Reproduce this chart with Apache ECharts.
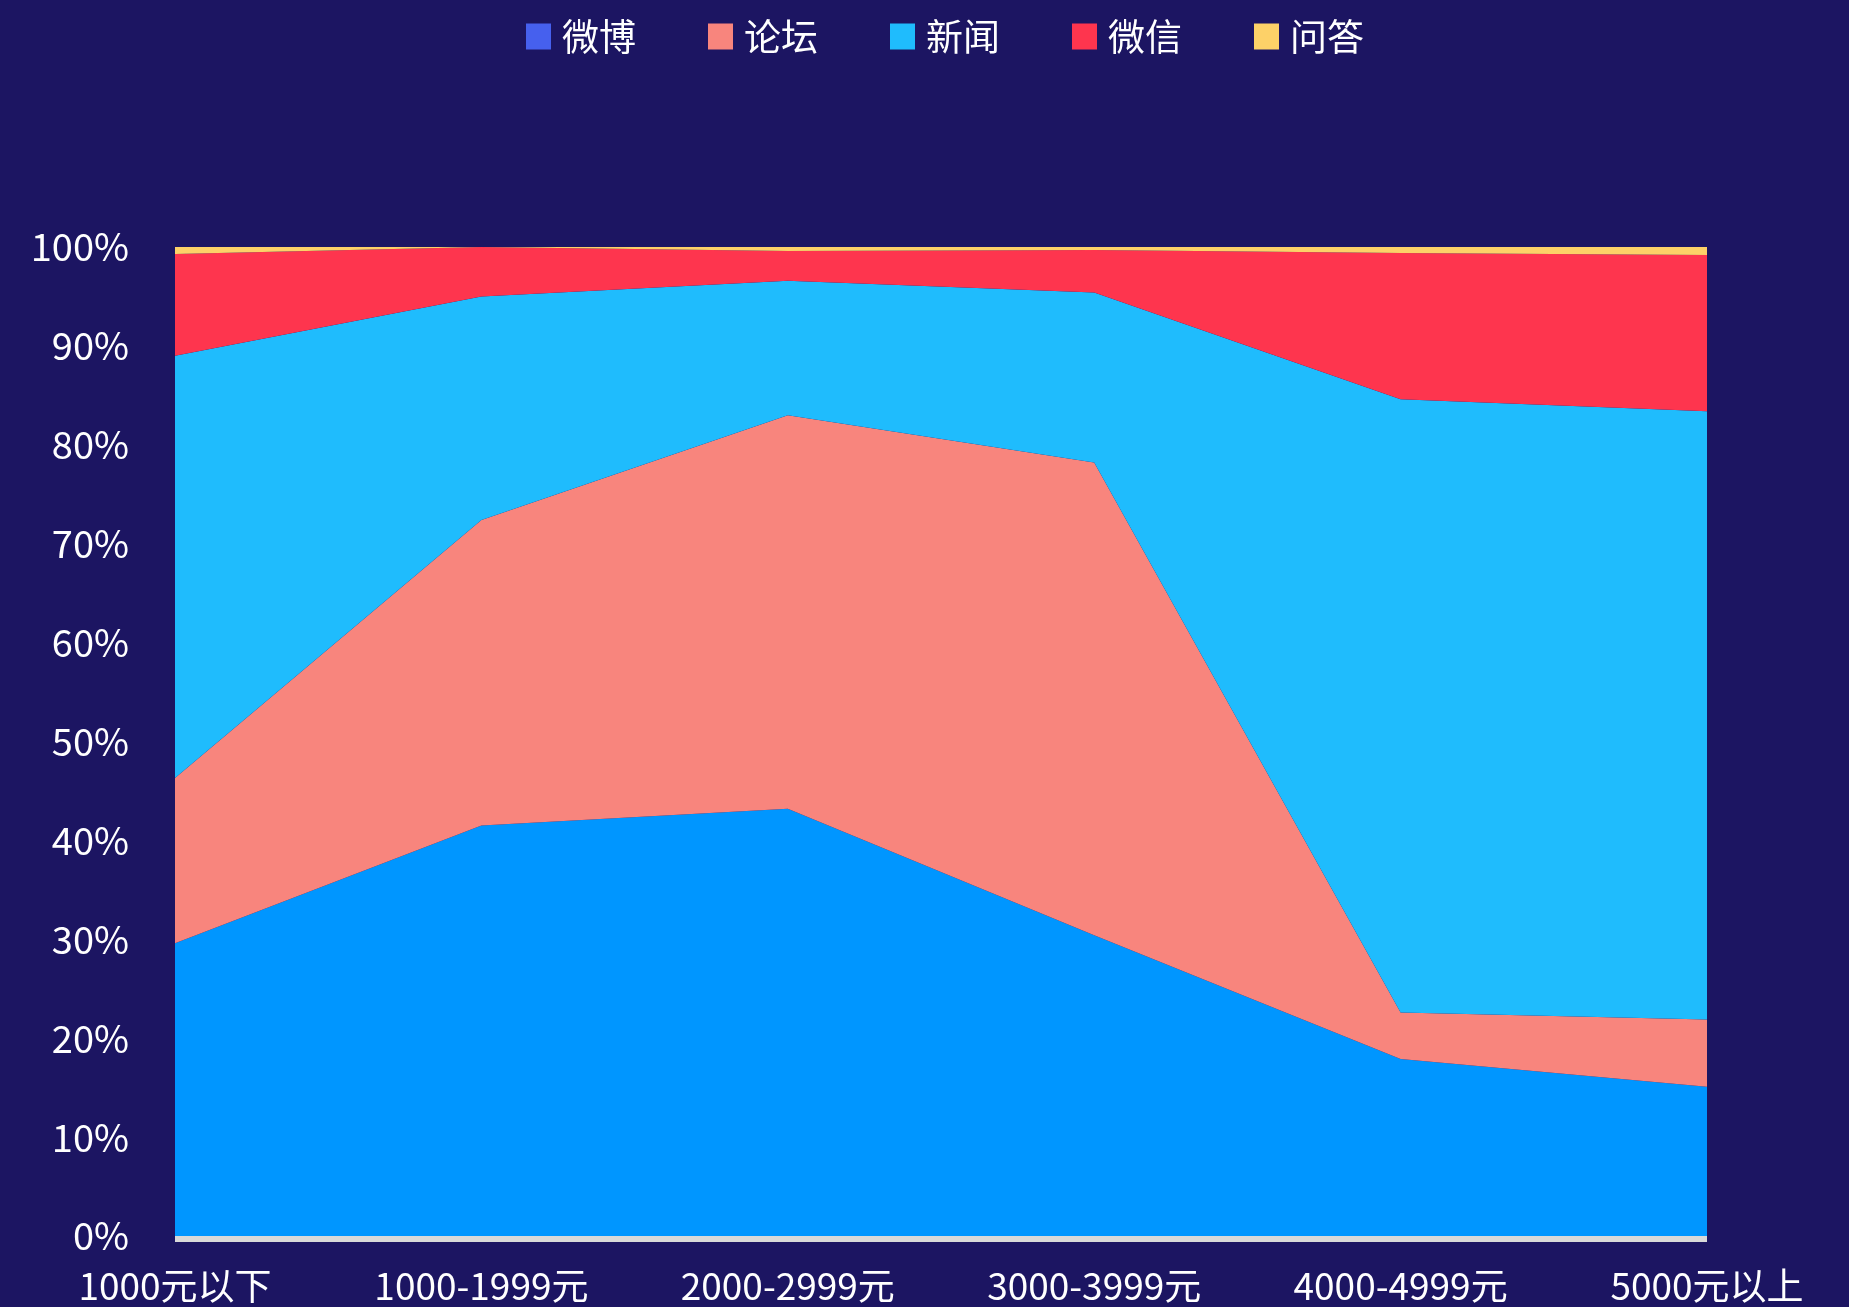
<!DOCTYPE html>
<html>
<head>
<meta charset="utf-8">
<script src="https://cdn.jsdelivr.net/npm/echarts@6/dist/echarts.min.js"></script>
<style>
html,body{margin:0;padding:0;background:#1c1562;}
#main{width:1849px;height:1307px;}
</style>
</head>
<body>
<div id="main"></div>
<script>
var categories = ['1000元以下', '1000-1999元', '2000-2999元', '3000-3999元', '4000-4999元', '5000元以上'];
var weibo  = [29.6, 41.5, 43.2, 30.4, 17.9, 15.1];
var luntan = [16.7, 30.9, 39.8, 47.8, 4.7, 6.8];
var xinwen = [42.7, 22.6, 13.6, 17.2, 62.0, 61.5];
var weixin = [10.3, 5.0, 3.0, 4.3, 14.8, 15.8];
var wenda  = [0.7, 0.0, 0.4, 0.3, 0.6, 0.8];
var yTicks = [0, 10, 20, 30, 40, 50, 60, 70, 80, 90, 100];

var font = '"Noto Sans CJK SC", "Noto Sans", sans-serif';
function mk(name, data, legendColor, areaColor) {
  return {
    name: name, type: 'line', stack: 'total', data: data,
    symbol: 'none', showSymbol: false,
    lineStyle: { width: 0, opacity: 0 },
    itemStyle: { color: legendColor },
    areaStyle: { color: areaColor, opacity: 1 }
  };
}
var chart = echarts.init(document.getElementById('main'));
chart.setOption({
  backgroundColor: '#1c1562',
  animation: false,
  legend: {
    top: 13, left: 521,
    itemWidth: 25, itemHeight: 26, itemGap: 72,
    icon: 'rect',
    textStyle: { color: '#ffffff', fontSize: 37, fontFamily: font, padding: [0, 0, 0, 6] },
    data: ['微博', '论坛', '新闻', '微信', '问答']
  },
  grid: { left: 175, right: 142, top: 247, bottom: 71, containLabel: false },
  xAxis: {
    type: 'category', boundaryGap: false, data: categories,
    axisLine: { show: true, lineStyle: { color: '#d9d9d9', width: 11, cap: 'butt' } },
    axisTick: { show: false },
    splitLine: { show: false },
    axisLabel: { color: '#ffffff', fontSize: 37, fontFamily: font, margin: 31 }
  },
  yAxis: {
    type: 'value', min: yTicks[0], max: yTicks[yTicks.length - 1], interval: 10,
    axisLine: { show: false }, axisTick: { show: false }, splitLine: { show: false },
    axisLabel: { color: '#ffffff', fontSize: 38, fontFamily: font, margin: 46, formatter: '{value}%' }
  },
  series: [
    mk('微博', weibo, '#4660ee', '#0096ff'),
    mk('论坛', luntan, '#f8857d', '#f8857d'),
    mk('新闻', xinwen, '#1fbcfd', '#1fbcfd'),
    mk('微信', weixin, '#fe354e', '#fe354e'),
    mk('问答', wenda, '#fdd168', '#fdd168')
  ]
});
</script>
</body>
</html>
